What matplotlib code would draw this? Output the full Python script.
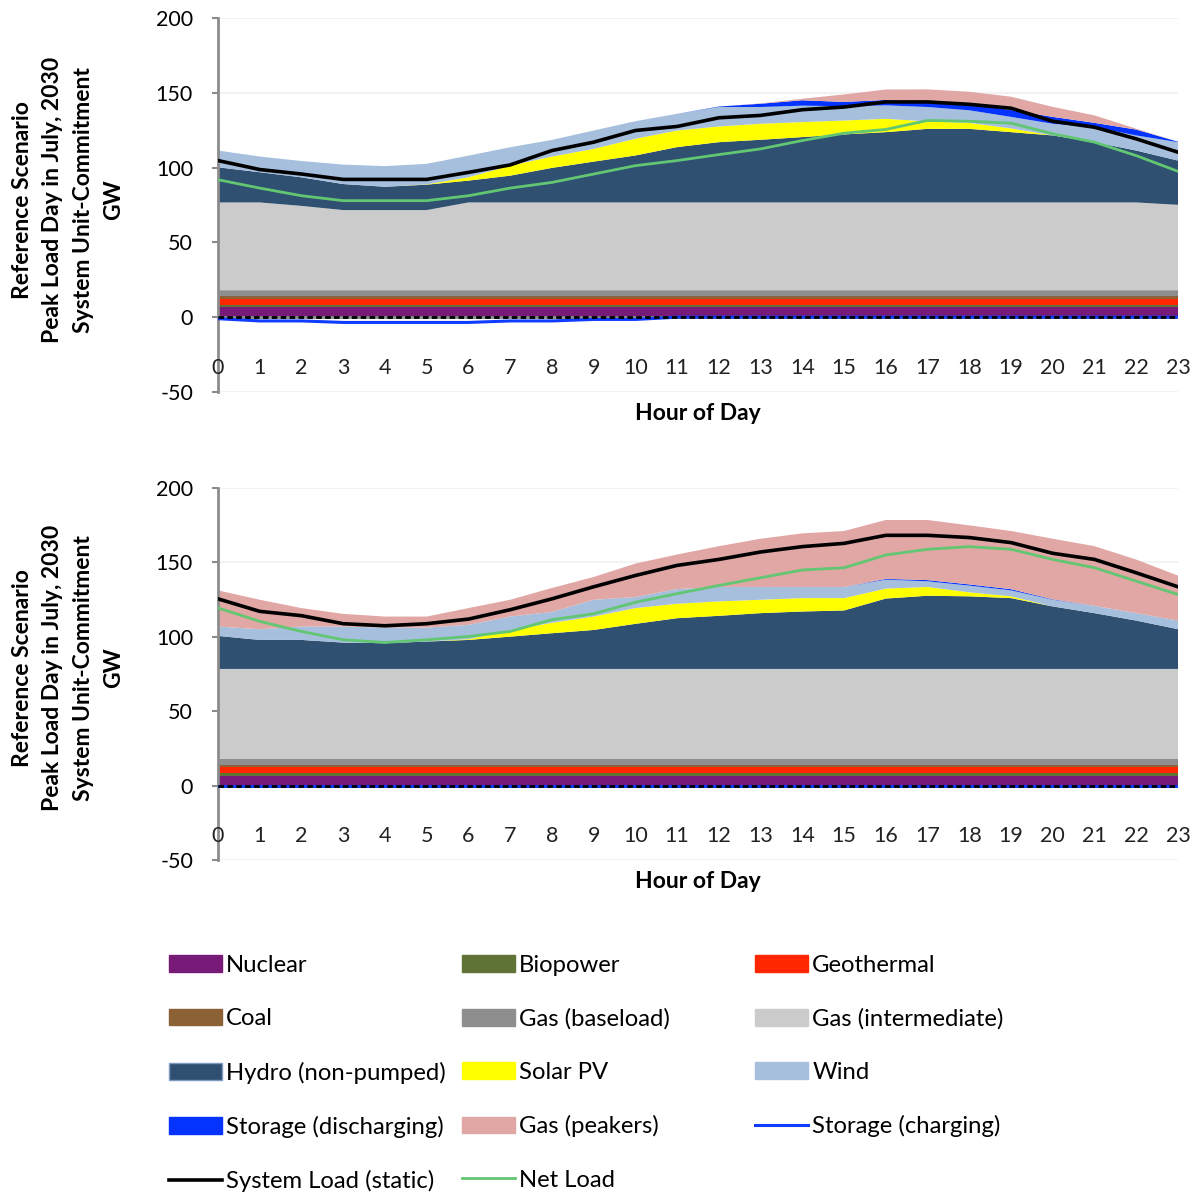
# peak load day dispatch stack, two scenarios stacked vertically
import numpy as np
import matplotlib
matplotlib.use("Agg")
import matplotlib.pyplot as plt
from matplotlib.patches import Patch
from matplotlib.lines import Line2D

plt.rcParams['font.family'] = ['Lato', 'DejaVu Sans']
plt.rcParams['axes.unicode_minus'] = False

hours = list(range(24))

# ---- top chart (GW) ----
top_nuclear = [6.7, 6.7, 6.7, 6.7, 6.7, 6.7, 6.7, 6.7, 6.7, 6.7, 6.7, 6.7, 6.7, 6.7, 6.7, 6.7, 6.7, 6.7, 6.7, 6.7, 6.7, 6.7, 6.7, 6.7]
top_bio = [1.6, 1.6, 1.6, 1.6, 1.6, 1.6, 1.6, 1.6, 1.6, 1.6, 1.6, 1.6, 1.6, 1.6, 1.6, 1.6, 1.6, 1.6, 1.6, 1.6, 1.6, 1.6, 1.6, 1.6]
top_geo = [3.6, 3.6, 3.6, 3.6, 3.6, 3.6, 3.6, 3.6, 3.6, 3.6, 3.6, 3.6, 3.6, 3.6, 3.6, 3.6, 3.6, 3.6, 3.6, 3.6, 3.6, 3.6, 3.6, 3.6]
top_coal = [2.0, 2.0, 2.0, 2.0, 2.0, 2.0, 2.0, 2.0, 2.0, 2.0, 2.0, 2.0, 2.0, 2.0, 2.0, 2.0, 2.0, 2.0, 2.0, 2.0, 2.0, 2.0, 2.0, 2.0]
top_gas_base = [4.0, 4.0, 4.0, 4.0, 4.0, 4.0, 4.0, 4.0, 4.0, 4.0, 4.0, 4.0, 4.0, 4.0, 4.0, 4.0, 4.0, 4.0, 4.0, 4.0, 4.0, 4.0, 4.0, 4.0]
top_gas_int = [58.8, 58.8, 56.5, 53.7, 53.7, 53.7, 58.8, 58.8, 58.8, 58.8, 58.8, 58.8, 58.8, 58.8, 58.8, 58.8, 58.8, 58.8, 58.8, 58.8, 58.8, 58.8, 58.8, 57.2]
top_hydro = [23.5, 20.2, 19.1, 17.4, 15.6, 17.0, 14.6, 17.9, 23.1, 27.3, 31.4, 37.0, 40.3, 41.9, 43.7, 45.5, 47.0, 49.2, 49.2, 47.0, 44.8, 40.3, 34.7, 29.6]
top_solar = [0, 0, 0, 0, 0, 0.2, 2.2, 6.7, 7.6, 8.5, 11.2, 11.1, 10.5, 10.7, 10.0, 9.3, 8.9, 5.0, 4.0, 2.5, 0, 0, 0, 0]
top_wind = [11.2, 10.5, 10.9, 13.0, 13.8, 13.7, 14.5, 12.3, 11.1, 12.3, 11.7, 11.2, 13.0, 11.2, 11.0, 9.5, 9.0, 9.6, 8.4, 7.7, 7.8, 10.0, 10.1, 12.3]
top_storage_dis = [0, 0, 0, 0, 0, 0, 0, 0, 0, 0, 0, 0, 0.3, 2.2, 3.6, 2.9, 3.6, 3.5, 4.2, 4.6, 4.6, 2.9, 3.9, 0.3]
top_peakers = [0, 0, 0, 0, 0, 0, 0, 0, 0, 0, 0, 0, 0, 0.2, 1.0, 5.0, 7.0, 8.3, 8.2, 8.9, 6.7, 5.0, 0.6, 0]
top_storage_chg = [-1.0, -2.5, -2.5, -3.5, -3.5, -3.5, -3.5, -2.5, -2.5, -1.5, -1.5, 0, 0, 0, 0, 0, 0, 0, 0, 0, 0, 0, 0, 0]
top_load = [104.7, 98.7, 95.7, 92.1, 92.1, 92.1, 96.8, 101.8, 111.4, 117.0, 124.8, 127.5, 133.3, 134.9, 138.7, 140.5, 143.9, 143.9, 142.3, 139.7, 131.0, 127.0, 119.2, 110.3]
top_net = [91.9, 86.3, 81.2, 77.9, 77.9, 77.9, 81.2, 86.3, 90.1, 95.7, 101.3, 104.7, 108.7, 112.5, 118.1, 123.0, 125.5, 131.5, 131.0, 129.7, 122.6, 117.0, 108.0, 97.5]

# ---- bottom chart (GW) ----
bot_nuclear = [6.7, 6.7, 6.7, 6.7, 6.7, 6.7, 6.7, 6.7, 6.7, 6.7, 6.7, 6.7, 6.7, 6.7, 6.7, 6.7, 6.7, 6.7, 6.7, 6.7, 6.7, 6.7, 6.7, 6.7]
bot_bio = [1.5, 1.5, 1.5, 1.5, 1.5, 1.5, 1.5, 1.5, 1.5, 1.5, 1.5, 1.5, 1.5, 1.5, 1.5, 1.5, 1.5, 1.5, 1.5, 1.5, 1.5, 1.5, 1.5, 1.5]
bot_geo = [4.0, 4.0, 4.0, 4.0, 4.0, 4.0, 4.0, 4.0, 4.0, 4.0, 4.0, 4.0, 4.0, 4.0, 4.0, 4.0, 4.0, 4.0, 4.0, 4.0, 4.0, 4.0, 4.0, 4.0]
bot_coal = [1.6, 1.6, 1.6, 1.6, 1.6, 1.6, 1.6, 1.6, 1.6, 1.6, 1.6, 1.6, 1.6, 1.6, 1.6, 1.6, 1.6, 1.6, 1.6, 1.6, 1.6, 1.6, 1.6, 1.6]
bot_gas_base = [4.0, 4.0, 4.0, 4.0, 4.0, 4.0, 4.0, 4.0, 4.0, 4.0, 4.0, 4.0, 4.0, 4.0, 4.0, 4.0, 4.0, 4.0, 4.0, 4.0, 4.0, 4.0, 4.0, 4.0]
bot_gas_int = [60.6, 60.6, 60.6, 60.6, 60.6, 60.6, 60.6, 60.6, 60.6, 60.6, 60.6, 60.6, 60.6, 60.6, 60.6, 60.6, 60.6, 60.6, 60.6, 60.6, 60.6, 60.6, 60.6, 60.6]
bot_hydro = [22.2, 19.5, 19.5, 17.7, 17.3, 18.4, 19.5, 21.7, 24.0, 26.2, 30.3, 34.1, 35.7, 37.5, 38.6, 39.3, 47.3, 49.2, 48.8, 47.6, 42.0, 37.5, 32.5, 26.7]
bot_solar = [0, 0, 0, 0, 0, 0, 0.5, 4.3, 7.0, 9.0, 10.6, 9.7, 9.7, 9.0, 9.0, 8.3, 6.7, 5.9, 2.7, 1.2, 0, 0, 0, 0]
bot_wind = [6.3, 7.2, 9.0, 10.8, 10.5, 9.4, 9.6, 9.2, 7.3, 11.3, 7.4, 9.9, 9.7, 8.6, 7.5, 7.5, 6.0, 3.8, 4.5, 4.0, 4.5, 4.9, 5.0, 5.8]
bot_storage_dis = [0, 0, 0, 0, 0, 0, 0, 0, 0, 0, 0, 0, 0, 0, 0, 0, 0.5, 0.8, 0.8, 0.8, 0.3, 0, 0, 0]
bot_peakers = [24.3, 19.8, 12.4, 8.5, 7.4, 7.4, 11.3, 11.3, 16.1, 15.3, 22.5, 23.2, 27.4, 32.4, 36.0, 37.6, 39.6, 40.4, 39.7, 39.1, 40.7, 40.1, 36.0, 30.2]
bot_storage_chg = [0, 0, 0, 0, 0, 0, 0, 0, 0, 0, 0, 0, 0, 0, 0, 0, 0, 0, 0, 0, 0, 0, 0, 0]
bot_load = [125.5, 117.1, 114.2, 108.8, 107.4, 108.8, 111.9, 118.2, 125.5, 133.6, 141.2, 148.0, 152.0, 157.0, 160.6, 162.8, 168.2, 168.2, 166.7, 163.3, 156.1, 152.0, 143.0, 133.6]
bot_net = [119.4, 110.4, 103.6, 98.0, 96.2, 98.0, 100.2, 103.6, 111.5, 115.5, 123.2, 129.0, 134.5, 139.7, 144.9, 146.4, 155.0, 158.8, 160.6, 158.8, 152.0, 146.4, 137.4, 128.4]

stack_labels = ['Nuclear', 'Biopower', 'Geothermal', 'Coal', 'Gas (baseload)',
                'Gas (intermediate)', 'Hydro (non-pumped)', 'Solar PV', 'Wind',
                'Storage (discharging)', 'Gas (peakers)']
stack_colors = ['#781a77', '#5f7434', '#ff2600', '#8c6135', '#8e8e8e',
                '#cbcbcb', '#2f5071', '#ffff00', '#a5bfdd',
                '#0433ff', '#e0a7a5']
chg_color = '#0f3cff'
load_color = '#000000'
net_color = '#62c672'

ylabel = 'Reference Scenario\nPeak Load Day in July, 2030\nSystem Unit-Commitment\nGW'


def draw_day(ax, stacks, chg, load, net):
	ax.set_xlim(0, 23)
	ax.set_ylim(-50, 200)
	ax.set_yticks([-50, 0, 50, 100, 150, 200])
	ax.yaxis.grid(True, color='#f2f2f2', linewidth=1.5, zorder=0)
	ax.set_axisbelow(True)

	ax.stackplot(hours, *stacks, colors=stack_colors, linewidth=0, zorder=2)

	ax.axhline(0, color='#8c8c8c', linewidth=2, zorder=3)
	ax.plot(hours, chg, color=chg_color, linewidth=2.2, zorder=4)
	ax.axhline(0, color='black', linewidth=2, linestyle=(0, (2.0, 1.2)), zorder=5)
	ax.plot(hours, load, color=load_color, linewidth=2.6, zorder=6)
	ax.plot(hours, net, color=net_color, linewidth=2.0, zorder=6)

	# hour labels sit inside the plot area, below zero
	ax.set_xticks([])
	for h in hours:
		ax.text(h, -34, str(h), ha='center', va='center', fontsize=15.5, color='#222222')
	ax.set_xlabel('Hour of Day', fontsize=16.5, fontweight='bold', labelpad=8)

	for s in ['top', 'right', 'bottom']:
		ax.spines[s].set_visible(False)
	ax.spines['left'].set_color('#8c8c8c')
	ax.spines['left'].set_linewidth(2)
	ax.tick_params(axis='y', length=4, width=1.5, color='#8c8c8c', pad=14, labelsize=15.5)


fig = plt.figure(figsize=(11.96, 11.93), dpi=100)
W, H = 1196.0, 1193.0

ax1 = fig.add_axes([218 / W, 1 - 392 / H, 960 / W, 374 / H])
ax2 = fig.add_axes([218 / W, 1 - 860 / H, 960 / W, 372 / H])

draw_day(ax1, [top_nuclear, top_bio, top_geo, top_coal, top_gas_base, top_gas_int,
               top_hydro, top_solar, top_wind, top_storage_dis, top_peakers],
         top_storage_chg, top_load, top_net)
draw_day(ax2, [bot_nuclear, bot_bio, bot_geo, bot_coal, bot_gas_base, bot_gas_int,
               bot_hydro, bot_solar, bot_wind, bot_storage_dis, bot_peakers],
         bot_storage_chg, bot_load, bot_net)

fig.text(68 / W, 1 - 200 / H, ylabel, rotation=90, ha='center', va='center',
         fontsize=16.5, fontweight='bold', linespacing=1.55)
fig.text(68 / W, 1 - 668 / H, ylabel, rotation=90, ha='center', va='center',
         fontsize=16.5, fontweight='bold', linespacing=1.55)

# legend, laid out in three fixed-width columns
h = {lab: Patch(facecolor=c, edgecolor=c) for lab, c in zip(stack_labels, stack_colors)}
h['Hydro (non-pumped)'] = Patch(facecolor='#2f5071', edgecolor='#7f9cc0', linewidth=1)
h['Storage (charging)'] = Line2D([], [], color=chg_color, linewidth=2.2)
h['System Load (static)'] = Line2D([], [], color=load_color, linewidth=2.6)
h['Net Load'] = Line2D([], [], color=net_color, linewidth=2.0)

columns = [
	['Nuclear', 'Coal', 'Hydro (non-pumped)', 'Storage (discharging)', 'System Load (static)'],
	['Biopower', 'Gas (baseload)', 'Solar PV', 'Gas (peakers)', 'Net Load'],
	['Geothermal', 'Gas (intermediate)', 'Wind', 'Storage (charging)'],
]
col_x = [169, 462, 755]
for labs, x in zip(columns, col_x):
	fig.legend([h[l] for l in labs], labs, loc='upper left',
	           bbox_to_anchor=(x / W, 1 - 955 / H), frameon=False,
	           fontsize=17.2, handlelength=2.2, handleheight=0.7,
	           handletextpad=0.2, labelspacing=1.35, borderpad=0, borderaxespad=0)

fig.savefig('out.png', dpi=100)
